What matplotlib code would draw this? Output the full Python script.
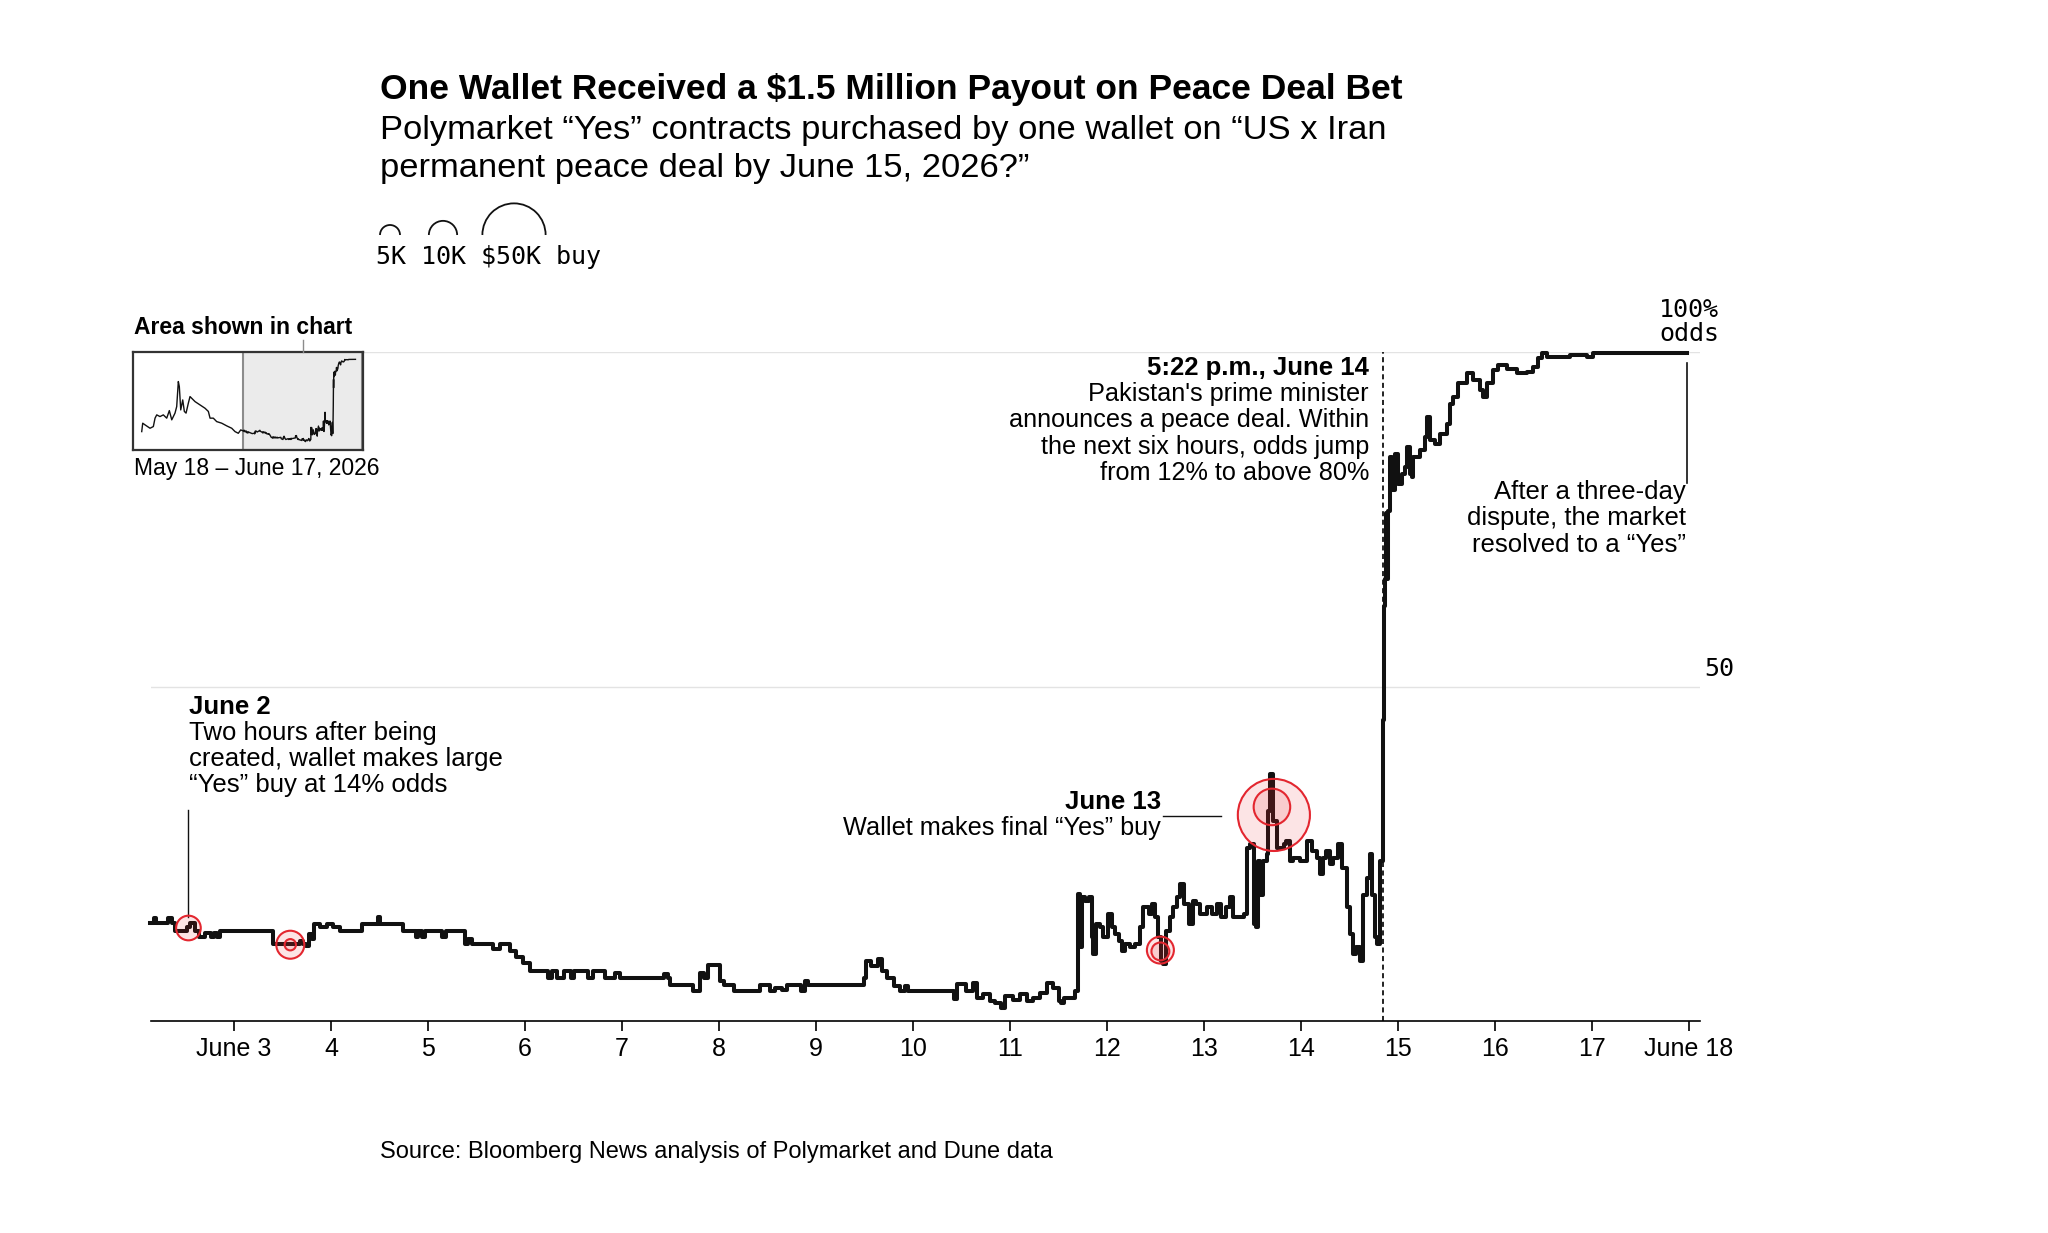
import numpy as np
import matplotlib.pyplot as plt
from matplotlib.patches import Arc

# odds of "Yes", day of June (fractional) -> percent, drawn as steps
days = [2.13, 2.17, 2.20, 2.32, 2.36, 2.39, 2.52, 2.55, 2.60, 2.64, 2.70, 2.76, 2.79, 2.82, 2.86,
        3.40, 3.68, 3.71, 3.74, 3.77, 3.80, 3.82, 3.89, 3.96, 4.02, 4.09, 4.32, 4.48, 4.50, 4.745,
        4.88, 4.90, 4.94, 4.97, 5.14, 5.19, 5.38, 5.41, 5.45, 5.67, 5.74, 5.85, 5.91, 5.98, 6.05,
        6.24, 6.28, 6.33, 6.40, 6.47, 6.50, 6.65, 6.70, 6.82, 6.93, 6.98,
        7.43, 7.47, 7.49, 7.735, 7.80, 7.84, 7.89, 8.01, 8.05, 8.15, 8.42, 8.53, 8.58, 8.65, 8.70,
        8.85, 8.89, 8.92, 9.49, 9.52, 9.57, 9.64, 9.68, 9.73, 9.80, 9.87, 9.92, 9.95,
        10.42, 10.45, 10.55, 10.62, 10.66, 10.72, 10.79, 10.85, 10.91, 10.95, 11.03, 11.10, 11.17,
        11.24, 11.31, 11.38, 11.44, 11.50, 11.53, 11.56, 11.67,
        11.70, 11.72, 11.74, 11.77, 11.81, 11.84, 11.86, 11.89, 11.93, 11.96, 12.01, 12.05, 12.08,
        12.12, 12.15, 12.19, 12.24, 12.29, 12.34, 12.37, 12.43, 12.46, 12.49, 12.53, 12.56, 12.58,
        12.61, 12.65, 12.68, 12.72, 12.75, 12.79, 12.84, 12.89, 12.92, 12.96, 13.03, 13.08, 13.13,
        13.18, 13.23, 13.27, 13.30, 13.41, 13.44, 13.47, 13.51, 13.54, 13.56, 13.58, 13.61, 13.65,
        13.66, 13.68, 13.71, 13.75, 13.82, 13.85, 13.89, 13.92, 13.99, 14.06, 14.11, 14.16, 14.20,
        14.23, 14.26, 14.30, 14.33, 14.38, 14.42, 14.47, 14.50, 14.54, 14.57, 14.61, 14.64, 14.68,
        14.71, 14.73, 14.76, 14.78, 14.81, 14.845, 14.855, 14.865, 14.875, 14.89, 14.90, 14.917,
        14.935, 14.969, 15.003, 15.038, 15.072, 15.089, 15.123, 15.141, 15.158, 15.226, 15.278,
        15.302, 15.33, 15.381, 15.433, 15.501, 15.536, 15.57, 15.622, 15.708, 15.776, 15.845,
        15.879, 15.914, 15.982, 16.034, 16.12, 16.223, 16.326, 16.395, 16.446, 16.481, 16.532,
        16.773, 16.945, 17.013, 17.46, 17.976]
odds = [14.7, 15.4, 14.7, 15.4, 14.7, 13.5, 14.0, 14.6, 13.5, 12.5, 13.2, 12.5, 13.2, 12.5, 13.4,
        11.5, 12.0, 11.5, 11.2, 13.0, 12.3, 14.5, 14.0, 14.5, 14.0, 13.4, 14.5, 15.5, 14.5, 13.4,
        12.5, 13.4, 12.5, 13.4, 12.5, 13.4, 11.5, 12.2, 11.5, 10.7, 11.5, 10.5, 9.5, 8.7, 7.4,
        6.4, 7.4, 6.4, 7.4, 6.4, 7.4, 6.4, 7.4, 6.4, 7.2, 6.4,
        7.1, 6.4, 5.4, 4.5, 7.2, 6.4, 8.4, 6.0, 5.4, 4.5, 5.4, 4.5, 5.0, 4.6, 5.4,
        4.5, 6.0, 5.4, 6.4, 9.0, 8.2, 9.2, 7.5, 6.4, 5.2, 4.5, 5.2, 4.5,
        3.3, 5.5, 4.5, 5.7, 3.5, 4.0, 3.0, 2.7, 2.0, 3.7, 3.2, 4.0, 3.0,
        3.5, 4.2, 5.7, 5.0, 3.0, 2.7, 3.5, 4.5,
        19.0, 11.0, 18.5, 18.0, 18.5, 12.5, 10.0, 14.5, 14.0, 12.5, 16.0, 14.0, 13.0,
        12.0, 10.5, 11.5, 11.0, 11.5, 14.0, 17.0, 16.0, 17.5, 15.5, 12.5, 9.0, 8.5,
        13.5, 15.5, 17.0, 18.5, 20.5, 17.5, 14.5, 18.0, 17.5, 16.0, 17.0, 16.0, 17.5,
        15.5, 17.0, 18.5, 15.5, 16.0, 25.9, 26.5, 14.5, 14.0, 23.9, 18.9, 23.9, 24.9,
        31.4, 36.9, 29.9, 25.9, 26.5, 26.9, 23.9, 24.4, 23.9, 26.9, 25.4, 24.4, 21.9,
        24.4, 25.4, 23.4, 24.4, 26.5, 22.9, 17.0, 13.0, 10.0, 11.0, 9.0, 18.9, 21.4,
        24.9, 18.9, 12.5, 11.5, 23.9, 45.0, 62.0, 66.0, 76.0, 66.0, 76.3, 84.3,
        79.3, 84.8, 80.3, 81.8, 82.8, 85.8, 81.8, 81.3, 84.3, 85.3, 87.3,
        90.3, 86.8, 86.3, 87.8, 89.3, 92.3, 93.3, 95.3, 96.8, 95.8, 94.3,
        93.3, 95.3, 97.3, 98.0, 97.5, 96.8, 97.0, 97.8, 99.1, 99.8, 99.3,
        99.6, 99.3, 99.8, 99.9, 99.9]

# earlier history, only in the overview box (May 31 = day 0)
early_days = [-12.21, -12.07, -11.74, -11.04, -10.57, -10.33, -10.09, -9.63, -9.16, -8.68, -8.31,
              -7.97, -7.51, -7.27, -7.04, -6.90, -6.70, -6.42, -6.19, -5.95, -5.63, -5.39, -5.15,
              -4.68, -3.98, -3.27, -2.80, -2.56, -2.10, -1.62, -0.91, -0.20, 0.50, 0.97, 1.43, 1.77]
early_odds = [13.9, 23.9, 21.9, 17.9, 19.9, 29.9, 33.8, 31.8, 33.8, 29.9, 38.9,
              27.9, 35.9, 43.7, 73.5, 67.5, 39.7, 51.6, 37.9, 35.9, 47.6, 55.6, 53.6,
              49.6, 45.7, 41.7, 37.9, 29.9, 29.9, 25.8, 23.9, 20.7, 17.9, 13.9, 11.9, 15.9]

# the wallet's "Yes" buys
buy_days = [2.53, 3.58, 3.58, 12.55, 12.55, 13.72, 13.70]
buy_odds = [13.9, 11.4, 11.4, 10.6, 10.4, 30.8, 32.0]
buy_usd = [7600, 9800, 1600, 9100, 4000, 65000, 16700]

legend_usd = [5000, 10000, 50000]
tick_days = [3, 4, 5, 6, 7, 8, 9, 10, 11, 12, 13, 14, 15, 16, 17, 18]
tick_labels = ['June 3', '4', '5', '6', '7', '8', '9', '10', '11', '12', '13', '14', '15', '16', '17', 'June 18']

W, H = 2048, 1233
RED = '#e3262f'
MONO = 'DejaVu Sans Mono'

plt.rcParams['font.family'] = ['Liberation Sans', 'DejaVu Sans']


def radius_px(usd):
    # circle area follows the dollar amount, 5K buy = 10 px radius
    return 10 * np.sqrt(np.asarray(usd) / 5000)


def main():
    fig = plt.figure(figsize=(W / 100, H / 100), dpi=100)

    ax = fig.add_axes([151 / W, 1 - 1021 / H, (1700 - 151) / W, (1021 - 352) / H])
    ax.set_xlim(2.144, 18.113)
    ax.set_ylim(0, 100)
    ax.axhline(50, color='#e3e3e3', lw=1, zorder=1)
    ax.axhline(100, color='#e3e3e3', lw=1, zorder=1)
    ax.axvline(14.85, color='#222222', lw=1.4, ls=(0, (2.6, 1.8)), zorder=2)
    ax.plot(days, odds, drawstyle='steps-post', color='#111111', lw=2.9, zorder=3, clip_on=False)

    sizes = (2 * radius_px(buy_usd) * 0.72) ** 2
    ax.scatter(buy_days, buy_odds, s=sizes, facecolor=(0.92, 0.15, 0.18, 0.12),
               edgecolor=RED, linewidth=1.5, zorder=4, clip_on=False)

    # leader lines
    ax.plot([2.53, 2.53], [15.6, 31.5], color='#111111', lw=1, clip_on=False)
    ax.plot([12.58, 13.18], [30.6, 30.6], color='#111111', lw=1, clip_on=False)
    ax.plot([17.98, 17.98], [80.4, 98.4], color='#111111', lw=1.2, clip_on=False)

    for side in ['left', 'right', 'top']:
        ax.spines[side].set_visible(False)
    ax.spines['bottom'].set_linewidth(1.2)
    ax.set_yticks([])
    ax.set_xticks(tick_days, tick_labels)
    ax.tick_params(axis='x', length=7, width=1.2, labelsize=18, pad=4.5)

    # overview box
    ins = fig.add_axes([133.3 / W, 1 - 450 / H, 229.4 / W, 98.3 / H], zorder=4)
    ins.set_xlim(-13.4, 19.0)
    ins.set_ylim(-8, 109)
    ins.axvspan(2.14, 18.86, facecolor='#ebebeb', edgecolor='#8c8c8c', lw=1.5)
    ins.plot(early_days + days, early_odds + odds, color='#111111', lw=1)
    ins.set_xticks([])
    ins.set_yticks([])
    for sp in ins.spines.values():
        sp.set_linewidth(1.6)
        sp.set_color('#333333')

    # overlay in pixel units for the text
    ov = fig.add_axes([0, 0, 1, 1], zorder=5)
    ov.axis('off')
    ov.set_xlim(0, W)
    ov.set_ylim(H, 0)

    ov.text(380, 90, 'One Wallet Received a $1.5 Million Payout on Peace Deal Bet',
            fontsize=25.5, fontweight='bold', va='center')
    ov.text(380, 130, 'Polymarket \u201cYes\u201d contracts purchased by one wallet on \u201cUS x Iran',
            fontsize=24.8, va='center')
    ov.text(380, 168, 'permanent peace deal by June 15, 2026?\u201d', fontsize=24.8, va='center')

    for cx, usd in zip([390, 443, 514], legend_usd):
        r = float(radius_px(usd))
        ov.add_patch(Arc((cx, 235), 2 * r, 2 * r, theta1=180, theta2=360, color='#111111', lw=1.3))
    ov.text(376, 257, '5K 10K $50K buy', fontsize=18, family=MONO, va='center')

    ov.text(134.5, 327, 'Area shown in chart', fontsize=16.5, fontweight='bold', va='center')
    ov.text(134.5, 469, 'May 18 \u2013 June 17, 2026', fontsize=16.5, va='center')
    ov.plot([302.5, 302.5], [340, 352], color='#8c8c8c', lw=1)

    ov.text(189, 707, 'June 2', fontsize=18.5, fontweight='bold', va='center')
    for y, line in zip([733, 759, 785], ['Two hours after being', 'created, wallet makes large',
                                         '\u201cYes\u201d buy at 14% odds']):
        ov.text(189, y, line, fontsize=18.5, va='center')

    ov.text(1161, 802, 'June 13', fontsize=18.5, fontweight='bold', va='center', ha='right')
    ov.text(1161, 828, 'Wallet makes final \u201cYes\u201d buy', fontsize=18.2, va='center', ha='right')

    ov.text(1369, 368, '5:22 p.m., June 14', fontsize=18.5, fontweight='bold', va='center', ha='right')
    for y, line in zip([394, 420.5, 446.6, 472.8], ["Pakistan's prime minister", 'announces a peace deal. Within',
                                                   'the next six hours, odds jump', 'from 12% to above 80%']):
        ov.text(1369, y, line, fontsize=18.2, va='center', ha='right')

    for y, line in zip([492, 518.5, 544.6], ['After a three-day', 'dispute, the market',
                                            'resolved to a \u201cYes\u201d']):
        ov.text(1686, y, line, fontsize=18.5, va='center', ha='right')

    ov.text(1719, 310, '100%', fontsize=18, family=MONO, va='center', ha='right')
    ov.text(1719, 334, 'odds', fontsize=18, family=MONO, va='center', ha='right')
    ov.text(1704, 669, '50', fontsize=18, family=MONO, va='center', ha='left')

    ov.text(380, 1152, 'Source: Bloomberg News analysis of Polymarket and Dune data', fontsize=17, va='center')

    plt.savefig('out.png', dpi=100)


main()
